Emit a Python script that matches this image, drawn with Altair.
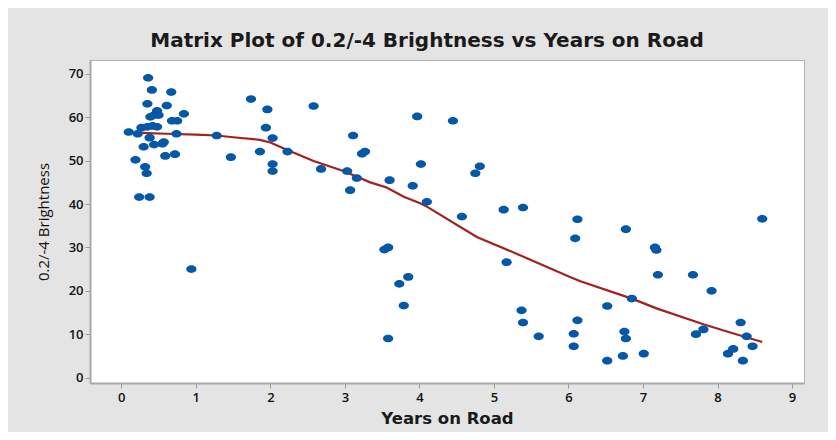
import altair as alt
import pandas as pd

# Scatter data: Years on Road vs 0.2/-4 Brightness
years = [0.10, 0.22, 0.19, 0.24, 0.38, 0.27, 0.35, 0.42, 0.48, 0.30, 0.32, 0.34,
         0.36, 0.41, 0.35, 0.38, 0.39, 0.44, 0.48, 0.50, 0.44, 0.55, 0.57, 0.59,
         0.72, 0.61, 0.67, 0.68, 0.75, 0.84, 0.74, 0.94, 1.28, 1.47, 1.74, 1.96,
         1.94, 2.03, 1.86, 2.03, 2.03, 2.23, 2.58, 2.68, 3.11, 3.23, 3.27, 3.03,
         3.16, 3.07, 3.60, 3.91, 4.02, 3.97, 4.45, 4.10, 4.81, 4.75, 4.57, 5.13,
         5.39, 6.12, 6.09, 5.17, 3.53, 3.58, 3.85, 3.73, 3.79, 3.58, 5.37, 5.39,
         5.60, 6.12, 6.07, 6.07, 6.77, 7.16, 7.18, 7.20, 7.67, 7.92, 8.60, 6.85,
         6.52, 6.75, 6.77, 6.73, 6.52, 7.01, 7.71, 7.81, 8.31, 8.39, 8.47, 8.14,
         8.21, 8.34]
brightness = [56.6, 56.2, 50.2, 41.6, 41.6, 57.6, 57.8, 58.0, 57.8, 53.2, 48.6, 47.1,
              69.1, 66.3, 63.1, 55.3, 60.1, 60.5, 61.5, 60.5, 53.7, 53.9, 54.3, 51.1,
              51.5, 62.7, 65.8, 59.2, 59.2, 60.8, 56.2, 25.0, 55.8, 50.8, 64.2, 61.8,
              57.6, 55.2, 52.1, 49.2, 47.6, 52.1, 62.6, 48.1, 55.8, 51.6, 52.1, 47.6,
              46.0, 43.2, 45.5, 44.2, 49.2, 60.2, 59.2, 40.5, 48.7, 47.1, 37.1, 38.7,
              39.2, 36.5, 32.1, 26.6, 29.5, 30.0, 23.2, 21.6, 16.6, 9.0, 15.5, 12.7,
              9.5, 13.2, 10.1, 7.2, 34.2, 30.0, 29.4, 23.7, 23.7, 20.0, 36.6, 18.2,
              16.5, 10.6, 9.0, 5.0, 3.9, 5.5, 10.0, 11.1, 12.7, 9.5, 7.2, 5.5,
              6.6, 3.9]

# Smoother (lowess) line
line_x = [0.27, 0.6, 1.0, 1.28, 1.5, 1.86, 2.0, 2.22, 2.58, 2.98, 3.34, 3.56,
          3.79, 4.01, 4.10, 4.77, 5.35, 6.02, 6.16, 6.85, 7.19, 7.81, 8.17, 8.60]
line_y = [56.4, 56.2, 56.0, 55.8, 55.4, 54.8, 54.2, 52.5, 49.9, 47.6, 45.0, 43.8,
          41.7, 40.2, 39.4, 32.4, 28.2, 23.2, 22.2, 18.2, 15.9, 12.3, 10.4, 8.2]

x_ticks = [0, 1, 2, 3, 4, 5, 6, 7, 8, 9]
y_ticks = [0, 10, 20, 30, 40, 50, 60, 70]

pts = pd.DataFrame({"Years on Road": years, "Brightness": brightness})
ln = pd.DataFrame({"Years on Road": line_x, "Brightness": line_y})

FONT = "Open Sans"
WIDE = "DejaVu Sans"

xscale = alt.Scale(domain=[-0.42, 9.16], nice=False, zero=False)
yscale = alt.Scale(domain=[-1.25, 73.2], nice=False, zero=False)

xaxis = alt.Axis(values=x_ticks, title="Years on Road", grid=False,
                 labelFont=FONT, labelFontSize=13, labelFontWeight=600, labelColor="#111111",
                 titleFont=WIDE, titleFontSize=16.5, titleFontWeight="bold", titleColor="#1a1a1a",
                 tickSize=5, tickColor="#999999", labelPadding=3, titlePadding=6,
                 domainColor="#a8a8a8", domainWidth=2)
yaxis = alt.Axis(values=y_ticks, title="0.2/-4 Brightness", grid=False,
                 labelFont=FONT, labelFontSize=13, labelFontWeight=600, labelColor="#111111",
                 titleFont=FONT, titleFontSize=15, titleFontWeight="normal", titleColor="#111111",
                 tickSize=5, tickColor="#999999", labelPadding=2, titlePadding=17,
                 domainColor="#a8a8a8", domainWidth=2)

line = alt.Chart(ln).mark_line(color="#a3201d", strokeWidth=2.2).encode(
    x=alt.X("Years on Road:Q", scale=xscale, axis=xaxis),
    y=alt.Y("Brightness:Q", scale=yscale, axis=yaxis),
)

ellipse = "M-1,0A1,0.75,0,1,1,1,0A1,0.75,0,1,1,-1,0Z"
points = alt.Chart(pts).mark_point(filled=True, shape=ellipse, size=105,
                                   color="#0557a8", opacity=1).encode(
    x=alt.X("Years on Road:Q", scale=xscale, axis=xaxis),
    y=alt.Y("Brightness:Q", scale=yscale, axis=yaxis),
)

chart = alt.layer(line, points).properties(
    width=714,
    height=323,
    title=alt.TitleParams("Matrix Plot of 0.2/-4 Brightness vs Years on Road",
                          font=WIDE, fontSize=20, fontWeight="bold", color="#1a1a1a",
                          anchor="middle", dx=-20, dy=21, offset=14, baseline="alphabetic"),
    autosize=alt.AutoSizeParams(type="none"),
    padding={"left": 82, "top": 52, "right": 24, "bottom": 49},
    background="#e4e4e4",
).configure_view(stroke="#b4b4b4", strokeWidth=1, fill="white")

chart.save("out.html", embed_options={"renderer": "svg", "actions": False})
